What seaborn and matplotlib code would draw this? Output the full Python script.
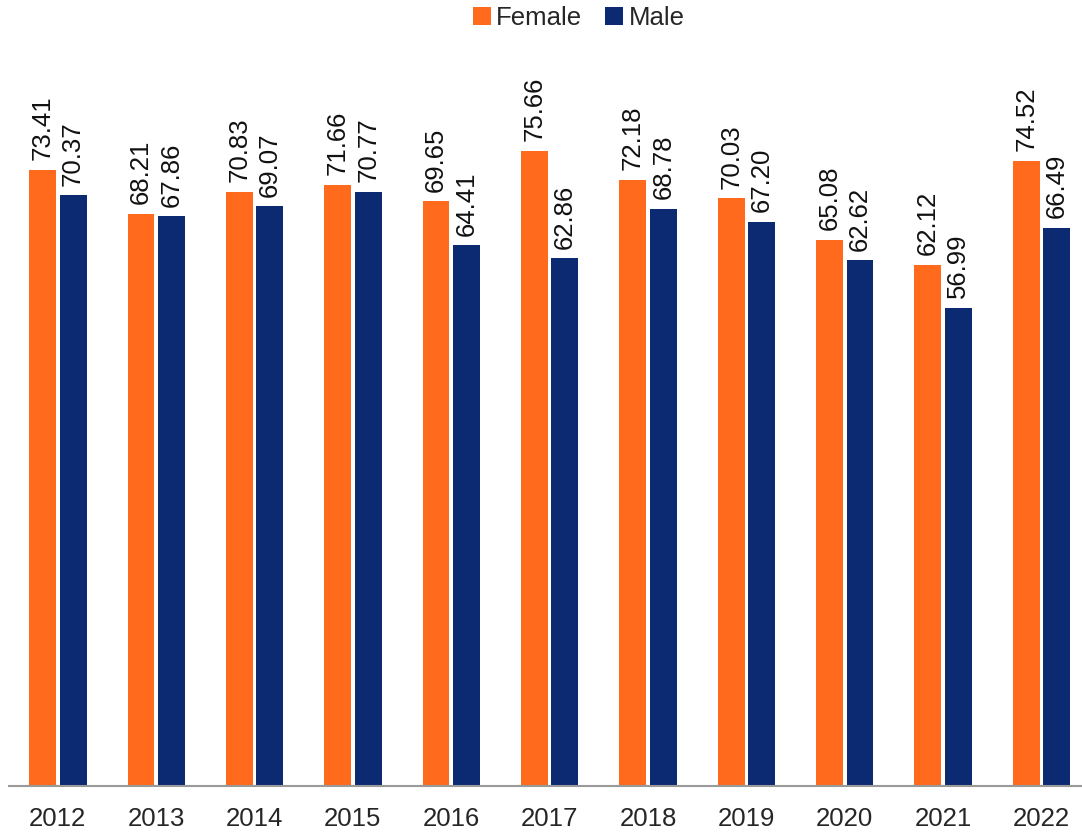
import pandas as pd
import matplotlib
matplotlib.use("Agg")
import matplotlib.pyplot as plt
import seaborn as sns

# data
years = ["2012", "2013", "2014", "2015", "2016", "2017", "2018", "2019", "2020", "2021", "2022"]
female = [73.41, 68.21, 70.83, 71.66, 69.65, 75.66, 72.18, 70.03, 65.08, 62.12, 74.52]
male = [70.37, 67.86, 69.07, 70.77, 64.41, 62.86, 68.78, 67.20, 62.62, 56.99, 66.49]

df = pd.DataFrame({
    "Year": years * 2,
    "Value": female + male,
    "Sex": ["Female"] * len(years) + ["Male"] * len(years),
})

sns.set_style("white")
plt.rcParams["font.family"] = ["Liberation Sans", "DejaVu Sans"]

fig = plt.figure(figsize=(10.82, 8.34), dpi=100)
ax = fig.add_axes([0.008, 0.0576, 1.0, 0.8825])

sns.barplot(
    data=df, x="Year", y="Value", hue="Sex",
    palette={"Female": "#FF6A1C", "Male": "#0B2A72"},
    width=0.62, gap=0.12, saturation=1, linewidth=0, ax=ax,
)

for cont in ax.containers:
    ax.bar_label(cont, fmt="%.2f", rotation=90, padding=7, fontsize=18.5, color="#111111")

ax.set_ylim(0, 87.7)
ax.set_xlabel("")
ax.set_ylabel("")
ax.set_yticks([])
ax.tick_params(axis="x", length=0, labelsize=18.5, pad=15)
for s in ["top", "right", "left"]:
    ax.spines[s].set_visible(False)
ax.spines["bottom"].set_color("#9a9a9a")
ax.spines["bottom"].set_linewidth(1.5)

handles, labels = ax.get_legend_handles_labels()
ax.get_legend().remove()
fig.legend(handles, labels, loc="upper center", bbox_to_anchor=(0.535, 1.02), ncol=2,
           frameon=False, fontsize=18.5, handlelength=0.7, handleheight=0.7,
           handletextpad=0.2, columnspacing=0.9)

fig.savefig("out.png", dpi=100)
